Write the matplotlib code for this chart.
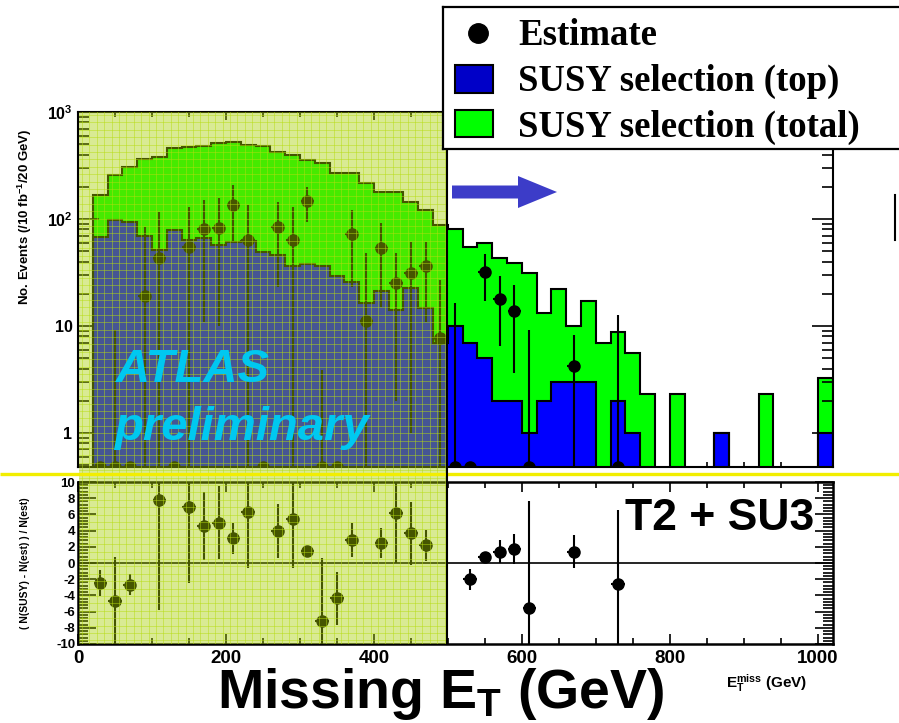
import numpy as np
import matplotlib
matplotlib.use("Agg")
import matplotlib.pyplot as plt
from matplotlib.patches import Rectangle, FancyArrow
from matplotlib.ticker import MultipleLocator, LogLocator, NullFormatter, FixedLocator, FixedFormatter

# =============================
# DATA
# =============================
# 20 GeV bins from 20 to 1020 GeV
met_edges = np.arange(20, 1021, 20)

susy_total = np.array([
    168, 258, 308, 361, 382, 458, 470, 481, 510, 524,
    490, 481, 425, 396, 356, 331, 271, 271, 215, 180,
    180, 145, 121, 88, 80, 55, 59, 43, 39, 31,
    13.3, 22, 10, 17, 6.9, 8.8, 5.6, 2.3, 0, 2.3,
    0, 0, 1, 0, 0, 2.3, 0, 0, 0, 3.25])

susy_top = np.array([
    68, 98, 94, 69, 51, 79, 64, 66, 57, 61,
    62, 49, 46, 36, 38, 36, 29, 26, 16.3, 21,
    14.1, 22.5, 14.6, 6.9, 10, 7, 5, 2, 2, 1,
    2, 3, 3, 3, 0, 2, 1, 0, 0, 0,
    0, 0, 1, 0, 0, 0, 0, 0, 0, 1])

# estimate points (0 = below the axis, drawn on the lower edge)
est_x = [30, 50, 70, 90, 110, 130, 150, 170, 190, 210, 230, 250, 270, 290, 310, 330,
         350, 370, 390, 410, 430, 450, 470, 490, 510, 530, 550, 570, 590, 610, 670, 730]
est_val = np.array([0, 0, 0, 19, 43, 0, 55, 81, 83, 135, 64, 0, 84, 64, 147, 0,
                    0, 72, 11.2, 53, 25, 31, 36, 7.7, 0, 0, 32, 18, 13.8, 0, 4.2, 0])
est_err = np.array([0, 9.2, 0, 66, 74, 0, 75, 70, 73, 73, 71, 0, 61, 66, 53, 3.9,
                    0, 49, 37, 38, 23, 30, 25, 19, 16.5, 0, 15, 11.5, 10.2, 9.2, 4.0, 12.7])

# lower panel: (N(SUSY) - N(est)) / N(est)
ratio_x = [30, 50, 70, 110, 150, 170, 190, 210, 230, 270, 290, 310, 330,
           350, 370, 410, 430, 450, 470, 530, 550, 570, 590, 610, 670, 730]
ratio_val = [-2.5, -4.7, -2.7, 7.8, 6.95, 4.57, 4.98, 3.05, 6.33, 3.95, 5.4, 1.48, -7.1,
             -4.36, 2.84, 2.43, 6.13, 3.67, 2.2, -2.0, 0.78, 1.4, 1.73, -5.5, 1.4, -2.6]
ratio_err = [1.6, 5.5, 1.3, 13.6, 9.45, 4.2, 4.5, 1.9, 6.9, 3.3, 6.0, 0.5, 7.7,
             3.3, 2.1, 1.85, 6.1, 3.9, 1.9, 1.3, 0.5, 1.4, 1.85, 13.1, 2.05, 9.2]

top_ticks = [1, 10, 100, 1000]
top_ticklabels = ["1", "10", r"$10^{2}$", r"$10^{3}$"]

# =============================
# STYLE
# =============================
W, H = 899, 723
YMIN, YMAX = 0.48, 1000
FLOOR = 1e-2
GREEN = "#00ff00"
BLUE = "#0000ff"
ATLAS_CYAN = "#00c8f0"

plt.rcParams["font.family"] = ["Liberation Sans", "DejaVu Sans"]
plt.rcParams["font.weight"] = "bold"
plt.rcParams["axes.unicode_minus"] = False
plt.rcParams["mathtext.fontset"] = "custom"
plt.rcParams["mathtext.rm"] = "Liberation Sans:bold"
plt.rcParams["mathtext.bf"] = "Liberation Sans:bold"
plt.rcParams["mathtext.it"] = "Liberation Sans:bold:italic"


def fig_rect(x0, y0, x1, y1):
    # pixel box (top-left origin) -> figure fraction rect
    return [x0 / W, 1 - y1 / H, (x1 - x0) / W, (y1 - y0) / H]


fig = plt.figure(figsize=(W / 100, H / 100), dpi=100)
fig.patch.set_facecolor("white")

# =============================
# TOP PANEL
# =============================
ax_top = fig.add_axes(fig_rect(78, 112, 832.5, 467), zorder=0)
ax_top.set_yscale("log")
ax_top.set_xlim(0, 1020)
ax_top.set_ylim(YMIN, YMAX)

tot_plot = np.where(susy_total > 0, susy_total, FLOOR)
top_plot = np.where(susy_top > 0, susy_top, FLOOR)
ax_top.stairs(tot_plot, met_edges, baseline=FLOOR, fill=True, color=GREEN, zorder=1)
ax_top.stairs(top_plot, met_edges, baseline=FLOOR, fill=True, color=BLUE, zorder=2)
ax_top.stairs(tot_plot, met_edges, baseline=FLOOR, fill=False, color="k", lw=1.5, zorder=3)
ax_top.stairs(top_plot, met_edges, baseline=FLOOR, fill=False, color="k", lw=1.5, zorder=3)

y_est = np.where(est_val > 0, est_val, YMIN)
err_lo = np.where(est_val > 0, np.minimum(est_err, y_est - FLOOR), 0)
err_hi = np.where(est_val > 0, est_err, np.maximum(est_err - YMIN, 0))
ax_top.errorbar(est_x, y_est, yerr=[err_lo, err_hi], xerr=9, fmt="o", color="k",
                ms=8, elinewidth=1.5, capsize=0, zorder=4)

ax_top.yaxis.set_major_locator(FixedLocator(top_ticks))
ax_top.yaxis.set_major_formatter(FixedFormatter(top_ticklabels))
ax_top.yaxis.set_minor_locator(LogLocator(base=10, subs=np.arange(2, 10)))
ax_top.yaxis.set_minor_formatter(NullFormatter())
ax_top.xaxis.set_major_locator(MultipleLocator(200))
ax_top.xaxis.set_minor_locator(MultipleLocator(50))
ax_top.tick_params(axis="both", which="both", direction="in", top=True, right=True,
                   labelbottom=False, width=1.2)
ax_top.tick_params(axis="y", which="major", length=15, labelsize=11.5, pad=4)
ax_top.tick_params(axis="y", which="minor", length=8)
ax_top.tick_params(axis="x", which="major", length=6)
ax_top.tick_params(axis="x", which="minor", length=3.5)
for sp in ax_top.spines.values():
    sp.set_linewidth(1.5)

# =============================
# RATIO PANEL
# =============================
ax_bot = fig.add_axes(fig_rect(78, 482, 832.5, 644), zorder=0)
ax_bot.set_xlim(0, 1020)
ax_bot.set_ylim(-10, 10)
ax_bot.axhline(0, color="k", lw=1.2, zorder=1)
ax_bot.errorbar(ratio_x, ratio_val, yerr=ratio_err, xerr=9, fmt="o", color="k",
                ms=8, elinewidth=1.5, capsize=0, zorder=3)
ax_bot.yaxis.set_major_locator(MultipleLocator(2))
ax_bot.yaxis.set_minor_locator(MultipleLocator(0.4))
ax_bot.xaxis.set_major_locator(MultipleLocator(200))
ax_bot.xaxis.set_minor_locator(MultipleLocator(50))
ax_bot.tick_params(axis="both", which="both", direction="in", top=True, right=True, width=1.2)
ax_bot.tick_params(axis="y", which="major", length=13, labelsize=9.5, pad=2)
ax_bot.tick_params(axis="y", which="minor", length=7)
ax_bot.tick_params(axis="x", which="major", length=7, labelsize=13.5, pad=4)
ax_bot.tick_params(axis="x", which="minor", length=4)
for sp in ax_bot.spines.values():
    sp.set_linewidth(1.8)

# =============================
# PASTED-ON OVERLAY (left half)
# =============================
ov = fig.add_axes(fig_rect(79, 112, 447, 644), zorder=1)
ov.set_xlim(0, 368)
ov.set_ylim(532, 0)
ov.axis("off")
ov.add_patch(Rectangle((0, 0), 1, 1, transform=ov.transAxes,
                       fc=(165 / 255, 205 / 255, 0), alpha=0.42, lw=0))
for gx in np.arange(3, 368, 7.4):
    ov.axvline(gx, color="#b6dc10", lw=0.45, alpha=0.75)
for gy in np.arange(3, 532, 7.4):
    ov.axhline(gy, color="#b6dc10", lw=0.45, alpha=0.75)

# =============================
# DECORATIONS (pixel coordinates)
# =============================
deco = fig.add_axes([0, 0, 1, 1], zorder=3)
deco.set_xlim(0, W)
deco.set_ylim(H, 0)
deco.axis("off")

deco.plot([0, W], [474, 474], color="#f2ee00", lw=2.4, solid_capstyle="butt")
deco.plot([447, 447], [148, 644], color="k", lw=1.5)
deco.plot([895, 895], [195, 240], color="k", lw=1.5)
deco.add_patch(FancyArrow(452, 192, 105, 0, width=13, head_width=32, head_length=39,
                          length_includes_head=True, color="#3c3cc8", lw=0))

deco.text(116, 382, "ATLAS", color=ATLAS_CYAN, fontsize=34, style="italic",
          weight="bold", va="baseline", ha="left")
deco.text(114, 440, "preliminary", color=ATLAS_CYAN, fontsize=34, style="italic",
          weight="bold", va="baseline", ha="left")

deco.text(25, 217, r"No. Events (/10 fb$^{-1}$/20 GeV)", rotation=90,
          ha="center", va="center", fontsize=9.5)
deco.text(25.5, 563, "( N(SUSY) - N(est) ) / N(est)", rotation=90,
          ha="center", va="center", fontsize=7.5)
deco.text(625, 530, "T2 + SU3", fontsize=32, va="baseline", ha="left")
deco.text(441, 708, r"Missing E$_{\mathbf{T}}$ (GeV)", fontsize=40,
          ha="center", va="baseline")
deco.text(726, 688, r"E$_{\mathbf{T}}^{\mathbf{miss}}$ (GeV)", fontsize=11,
          ha="left", va="baseline")

# =============================
# LEGEND BOX
# =============================
leg = fig.add_axes(fig_rect(443, 7, 910, 149), zorder=5)
leg.set_xlim(0, 467)
leg.set_ylim(142, 0)
leg.set_xticks([])
leg.set_yticks([])
leg.set_facecolor("white")
for sp in leg.spines.values():
    sp.set_linewidth(1.6)
leg.plot(35, 26, "o", color="k", ms=14)
leg.add_patch(Rectangle((12, 58), 38, 28, fc="#0000c8", ec="k", lw=1.5))
leg.add_patch(Rectangle((12, 103), 38, 27, fc=GREEN, ec="k", lw=1.5))
serif = dict(family="Liberation Serif", weight="bold", fontsize=26.5, va="baseline")
leg.text(75, 38, "Estimate", **serif)
leg.text(75, 84, "SUSY selection (top)", **serif)
leg.text(75, 130, "SUSY selection (total)", **serif)

fig.savefig("out.png", dpi=100)
